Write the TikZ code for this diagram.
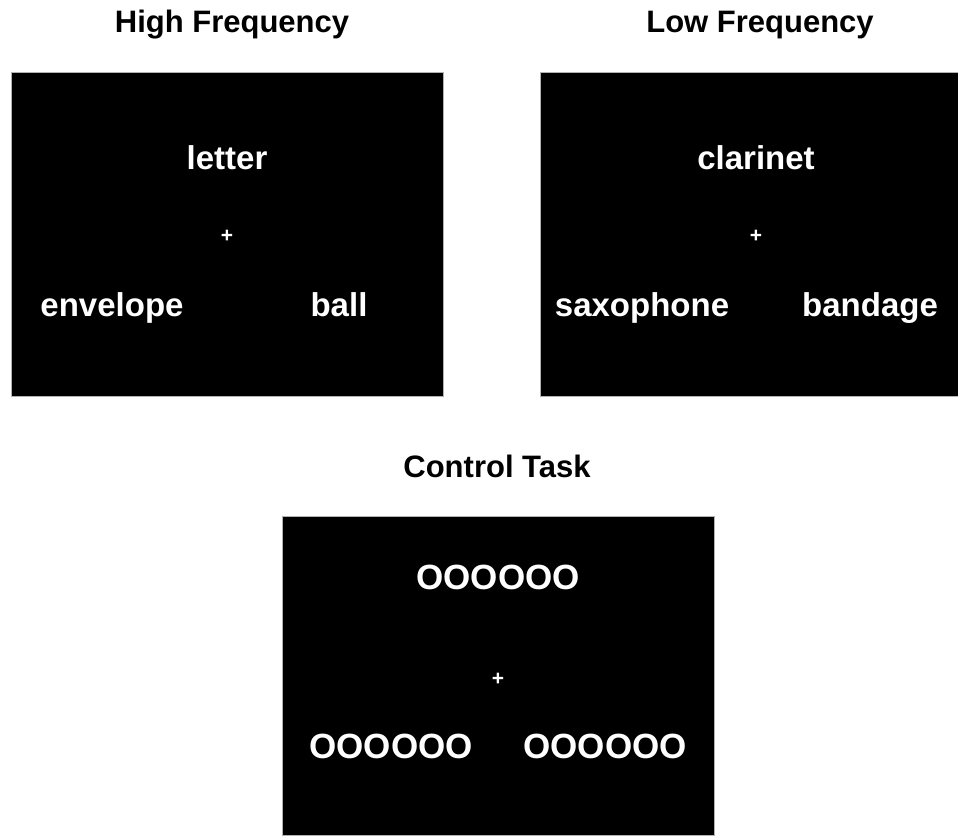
\documentclass[tikz,border=0pt]{standalone}
\usepackage{fontspec}
\setmainfont{Liberation Sans}
\usetikzlibrary{positioning}
\tikzset{
    panel/.style={fill=black,draw=gray!60,line width=0.6pt},
    title/.style={anchor=base,font=\bfseries\fontsize{31}{36}\selectfont,text=black},
    word/.style={anchor=base,font=\bfseries\fontsize{33}{38}\selectfont,text=white},
    ring/.style={word,font=\bfseries\fontsize{35}{40}\selectfont},
    fixation/.style={anchor=center,font=\bfseries\fontsize{21}{24}\selectfont,text=white}
}

\begin{document}
\begin{tikzpicture}[x=1pt,y=-1pt,inner sep=0pt]
\useasboundingbox (0,0) rectangle (958,835);

% Panels
\path[panel] (11,72) rectangle (443,396);
\path[panel] (540,72) rectangle (958.5,396);
\path[panel] (282,516) rectangle (714,835.5);

% Titles
\node[title] (hftitle) at (232,32) {High Frequency};
\node[title] (lftitle) at (760,32) {Low Frequency};
\node[title] (cttitle) at (497,477) {Control Task};

% High frequency
\node[word] (hftop) at (227,169) {letter};
\node[fixation] (hfcross) at (227,236) {+};
\node[word] (hfleft) at (112,316) {envelope};
\node[word] (hfright) at (339,316) {ball};

% Low frequency
\node[word] (lftop) at (756,169) {clarinet};
\node[fixation] (lfcross) at (756,236) {+};
\node[word] (lfleft) at (642,316) {saxophone};
\node[word] (lfright) at (870,316) {bandage};

% Control task
\node[ring] (cttop) at (498,589) {OOOOOO};
\node[fixation] (ctcross) at (498,679) {+};
\node[ring] (ctleft) at (391,758) {OOOOOO};
\node[ring] (ctright) at (605,758) {OOOOOO};

\end{tikzpicture}
\end{document}
